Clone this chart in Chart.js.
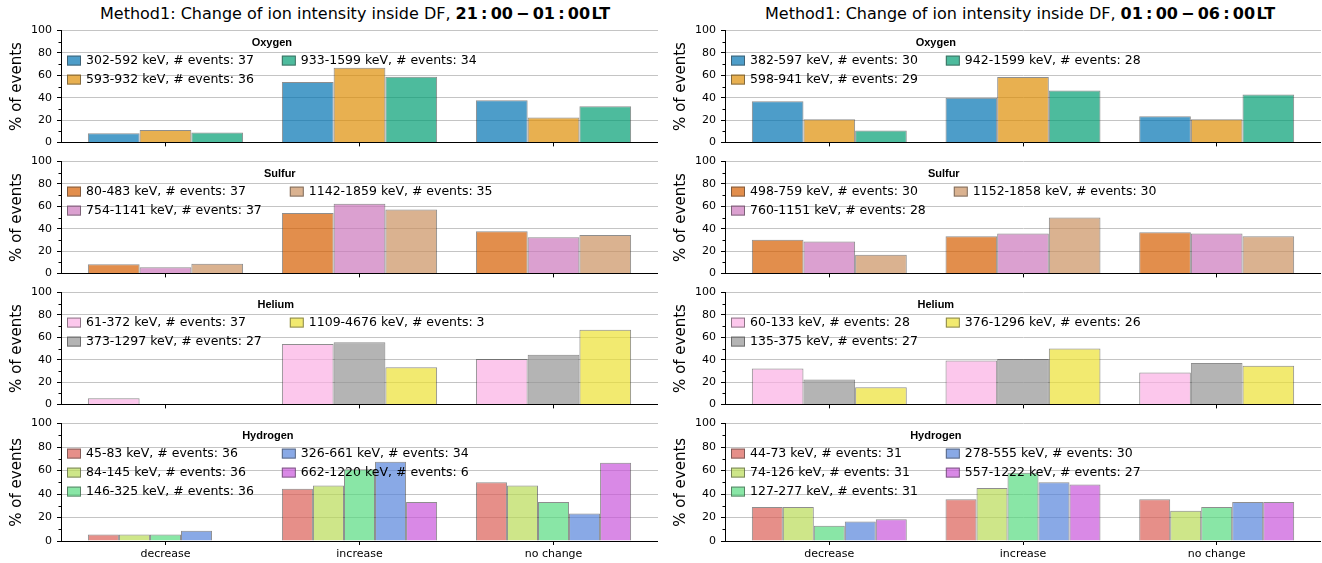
<!DOCTYPE html>
<html>
<head>
<meta charset="utf-8">
<script src="https://cdn.jsdelivr.net/npm/chart.js@4.4.1/dist/chart.umd.min.js"></script>
<style>
  body { margin: 0; background: #fff; width: 1322px; height: 563px; position: relative; overflow: hidden; font-family: "DejaVu Sans", sans-serif; }
  canvas { position: absolute; }
  .ttl { position: absolute; top: 4px; font-size: 16px; line-height: 20px; white-space: nowrap; color: #000; }
</style>
</head>
<body>
<div class="ttl" style="left:100px">Method1: Change of ion intensity inside DF, <b>21&thinsp;:&thinsp;00&thinsp;−&thinsp;01&thinsp;:&thinsp;00&hairsp;LT</b></div>
<div class="ttl" style="left:765px">Method1: Change of ion intensity inside DF, <b>01&thinsp;:&thinsp;00&thinsp;−&thinsp;06&thinsp;:&thinsp;00&hairsp;LT</b></div>

<script>
const categories = ["decrease", "increase", "no change"];
const yTicks = [0, 20, 40, 60, 80, 100];

// seaborn palettes, drawn with alpha 0.7
const oxygenColors = ["#0173B2", "#DE8F05", "#029E73"];
const sulfurColors = ["#D55E00", "#CC78BC", "#CA9161"];
const heliumColors = ["#FBAFE4", "#949494", "#ECE133"];
const hydrogenColors = ["#DB5F57", "#B9DB57", "#57DB80", "#5784DB", "#C957DB"];

// 21:00 - 01:00 LT
const oxygenLabelsA = ["302-592 keV, # events: 37", "593-932 keV, # events: 36", "933-1599 keV, # events: 34"];
const oxygenValuesA = [[8.1, 54.1, 37.8], [11.1, 66.7, 22.2], [8.8, 58.8, 32.4]];
const sulfurLabelsA = ["80-483 keV, # events: 37", "754-1141 keV, # events: 37", "1142-1859 keV, # events: 35"];
const sulfurValuesA = [[8.1, 54.1, 37.8], [5.4, 62.2, 32.4], [8.6, 57.1, 34.3]];
const heliumLabelsA = ["61-372 keV, # events: 37", "373-1297 keV, # events: 27", "1109-4676 keV, # events: 3"];
const heliumValuesA = [[5.4, 54.1, 40.5], [0, 55.6, 44.4], [0, 33.3, 66.7]];
const hydrogenLabelsA = ["45-83 keV, # events: 36", "84-145 keV, # events: 36", "146-325 keV, # events: 36", "326-661 keV, # events: 34", "662-1220 keV, # events: 6"];
const hydrogenValuesA = [[5.6, 44.4, 50.0], [5.6, 47.2, 47.2], [5.6, 61.1, 33.3], [8.8, 67.6, 23.5], [0, 33.3, 66.7]];

// 01:00 - 06:00 LT
const oxygenLabelsB = ["382-597 keV, # events: 30", "598-941 keV, # events: 29", "942-1599 keV, # events: 28"];
const oxygenValuesB = [[36.7, 40.0, 23.3], [20.7, 58.6, 20.7], [10.7, 46.4, 42.9]];
const sulfurLabelsB = ["498-759 keV, # events: 30", "760-1151 keV, # events: 28", "1152-1858 keV, # events: 30"];
const sulfurValuesB = [[30.0, 33.3, 36.7], [28.6, 35.7, 35.7], [16.7, 50.0, 33.3]];
const heliumLabelsB = ["60-133 keV, # events: 28", "135-375 keV, # events: 27", "376-1296 keV, # events: 26"];
const heliumValuesB = [[32.1, 39.3, 28.6], [22.2, 40.7, 37.0], [15.4, 50.0, 34.6]];
const hydrogenLabelsB = ["44-73 keV, # events: 31", "74-126 keV, # events: 31", "127-277 keV, # events: 31", "278-555 keV, # events: 30", "557-1222 keV, # events: 27"];
const hydrogenValuesB = [[29.0, 35.5, 35.5], [29.0, 45.2, 25.8], [12.9, 58.1, 29.0], [16.7, 50.0, 33.3], [18.5, 48.1, 33.3]];

function rgba(hex, a) {
  const n = parseInt(hex.slice(1), 16);
  return `rgba(${n >> 16},${(n >> 8) & 255},${n & 255},${a})`;
}

// legend inside the axes (2 columns, no frame) + minor y ticks
const insideLegend = {
  id: "insideLegend",
  afterDraw(chart) {
    const { ctx, chartArea } = chart;
    const { left, top } = chartArea;
    const sets = chart.data.datasets;
    const rows = Math.ceil(sets.length / 2);
    ctx.save();

    // minor ticks
    const y = chart.scales.y;
    ctx.strokeStyle = "#000";
    ctx.lineWidth = 1;
    for (let v = 10; v < 100; v += 20) {
      const py = Math.round(y.getPixelForValue(v)) + 0.5;
      ctx.beginPath();
      ctx.moveTo(left - 2.5, py);
      ctx.lineTo(left, py);
      ctx.stroke();
    }

    ctx.font = '12.5px "DejaVu Sans"';
    const col1 = sets.slice(0, rows), col2 = sets.slice(rows);
    const w1 = Math.max(...col1.map(d => ctx.measureText(d.label).width));
    const w2 = Math.max(...col2.map(d => ctx.measureText(d.label).width));
    const x1 = left + 6;
    const x2 = x1 + 19 + w1 + 28;
    ctx.textBaseline = "middle";
    ctx.textAlign = "left";
    [col1, col2].forEach((col, c) => {
      const px = c === 0 ? x1 : x2;
      col.forEach((d, r) => {
        const cy = top + 30 + r * 19;
        ctx.fillStyle = d.backgroundColor;
        ctx.fillRect(px, cy - 5, 14, 10);
        ctx.strokeStyle = d.borderColor;
        ctx.strokeRect(px + 0.5, cy - 4.5, 13, 9);
        ctx.fillStyle = "#000";
        ctx.fillText(d.label, px + 19, cy);
      });
    });

    ctx.font = 'bold 11px "Liberation Sans"';
    ctx.textAlign = "center";
    ctx.fillStyle = "#000";
    ctx.fillText(chart.options.plugins.insideLegend.title, (x1 + x2 + 19 + w2) / 2, top + 12);
    ctx.restore();
  }
};

const rowTops = [27, 158, 289, 420];
const plotH = 121;

function makePanel(col, row, title, labels, values, colors) {
  const isBottom = row === 3;
  const canvas = document.createElement("canvas");
  const left = col === 0 ? 0 : 664;
  const width = col === 0 ? 658 : 657;
  const height = 8 + plotH + (isBottom ? 24 : 6);
  canvas.width = width;
  canvas.height = height;
  canvas.style.left = left + "px";
  canvas.style.top = (rowTops[row] - 8) + "px";
  canvas.style.width = width + "px";
  canvas.style.height = height + "px";
  document.body.appendChild(canvas);

  new Chart(canvas, {
    type: "bar",
    data: {
      datasets: values.map((vals, i) => ({
        label: labels[i],
        data: vals.map((v, k) => ({ x: k, y: v })),
        backgroundColor: rgba(colors[i], 0.7),
        borderColor: "rgba(50,50,50,0.55)",
        borderWidth: 1,
        borderSkipped: "start",
        categoryPercentage: 0.8,
        barPercentage: 1.0
      }))
    },
    options: {
      responsive: false,
      animation: false,
      events: [],
      layout: { padding: { top: 8, left: 0, right: 0, bottom: 0 } },
      plugins: {
        legend: { display: false },
        tooltip: { enabled: false },
        insideLegend: { title: title }
      },
      scales: {
        x: {
          type: "linear",
          offset: false,
          min: -0.5385,
          max: 2.5385,
          afterBuildTicks: (s) => { s.ticks = categories.map((c, i) => ({ value: i })); },
          afterFit: (s) => { s.height = isBottom ? 24 : 6; },
          grid: { display: true, offset: false, drawOnChartArea: false, drawTicks: true, tickLength: 4, color: "#000" },
          border: { display: true, color: "#000", width: 1 },
          ticks: {
            display: isBottom,
            padding: 3,
            color: "#000",
            font: { family: "DejaVu Sans", size: 11 },
            maxRotation: 0,
            callback: (v) => categories[v] ?? ""
          }
        },
        y: {
          min: 0,
          max: 100,
          afterBuildTicks: (s) => { s.ticks = yTicks.map(v => ({ value: v })); },
          afterFit: (s) => { s.width = 61; },
          grid: {
            color: (c) => c.tick && c.tick.value === 0 ? "rgba(0,0,0,0)" : "#c4c4c4",
            lineWidth: 1,
            tickColor: "#000",
            tickLength: 4
          },
          border: { display: true, color: "#000", width: 1 },
          ticks: { padding: 5, color: "#000", font: { family: "DejaVu Sans", size: 11 } },
          title: {
            display: true,
            text: "% of events",
            color: "#000",
            font: { family: "DejaVu Sans", size: 15 },
            padding: { top: 8, bottom: 0 }
          }
        }
      }
    },
    plugins: [insideLegend]
  });
}

makePanel(0, 0, "Oxygen", oxygenLabelsA, oxygenValuesA, oxygenColors);
makePanel(0, 1, "Sulfur", sulfurLabelsA, sulfurValuesA, sulfurColors);
makePanel(0, 2, "Helium", heliumLabelsA, heliumValuesA, heliumColors);
makePanel(0, 3, "Hydrogen", hydrogenLabelsA, hydrogenValuesA, hydrogenColors);
makePanel(1, 0, "Oxygen", oxygenLabelsB, oxygenValuesB, oxygenColors);
makePanel(1, 1, "Sulfur", sulfurLabelsB, sulfurValuesB, sulfurColors);
makePanel(1, 2, "Helium", heliumLabelsB, heliumValuesB, heliumColors);
makePanel(1, 3, "Hydrogen", hydrogenLabelsB, hydrogenValuesB, hydrogenColors);
</script>
</body>
</html>
